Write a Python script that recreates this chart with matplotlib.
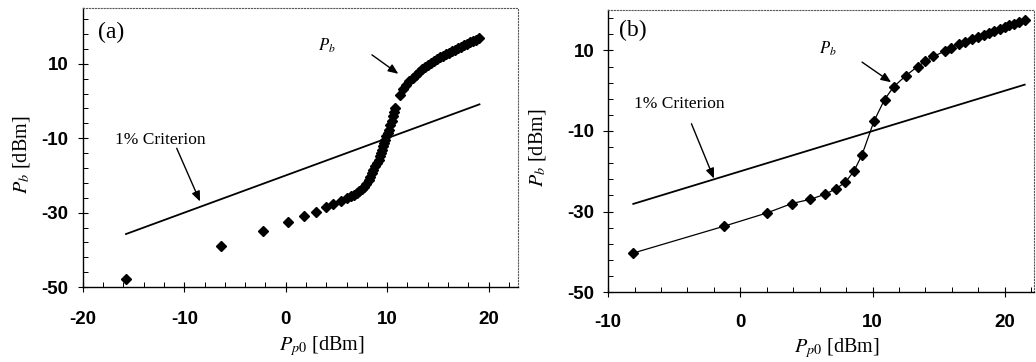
import numpy as np
import matplotlib
matplotlib.use("Agg")
import matplotlib.pyplot as plt
from matplotlib.ticker import FixedLocator

plt.rcParams['mathtext.fontset'] = 'stix'
plt.rcParams['font.family'] = 'Liberation Serif'
plt.rcParams['axes.unicode_minus'] = False

# (a) signal power vs. pump power, measured points only
pp0_a = [-15.7, -6.4, -2.2, 0.2, 1.8, 3.0, 4.0, 4.7, 5.4, 6.0, 6.4, 6.7, 7.0, 7.2,
         7.5, 7.7, 7.95, 8.2, 8.35, 8.5, 8.65, 8.8, 9.0, 9.15, 9.3, 9.4, 9.5, 9.6,
         9.7, 9.8, 9.9, 10.05, 10.15, 10.3, 10.45, 10.6, 10.7, 10.8, 11.3, 11.6,
         11.9, 12.2, 12.5, 12.8, 13.1, 13.4, 13.7, 14.0, 14.3, 14.6, 14.9, 15.2,
         15.5, 15.8, 16.1, 16.4, 16.7, 17.0, 17.3, 17.6, 17.9, 18.2, 18.5, 18.8, 19.1]
pb_a = [-47.9, -39.0, -34.9, -32.4, -30.9, -29.7, -28.5, -27.7, -27.0, -26.1, -25.6,
        -25.2, -24.8, -24.3, -23.7, -23.0, -22.2, -21.2, -20.3, -19.4, -18.5, -17.6,
        -16.7, -15.8, -14.9, -14.0, -13.1, -12.2, -11.3, -10.4, -9.5, -8.6, -7.7,
        -6.5, -5.3, -4.0, -3.0, -1.8, 1.7, 3.1, 4.3, 5.3, 6.3, 7.1, 7.9, 8.6, 9.2,
        9.7, 10.2, 10.8, 11.3, 11.8, 12.2, 12.6, 13.0, 13.4, 13.8, 14.2, 14.6,
        15.0, 15.4, 15.8, 16.1, 16.5, 16.9]

# (b) signal power vs. pump power, connected points
pp0_b = [-8.1, -1.2, 2.0, 3.9, 5.3, 6.4, 7.2, 7.95, 8.6, 9.2, 10.1, 10.9, 11.6,
         12.5, 13.4, 14.0, 14.6, 15.5, 15.9, 16.5, 17.0, 17.5, 18.0, 18.45, 18.8,
         19.2, 19.6, 20.0, 20.3, 20.7, 21.1, 21.5]
pb_b = [-40.3, -33.6, -30.35, -28.0, -26.95, -25.7, -24.4, -22.7, -19.9, -15.9,
        -7.6, -2.2, 1.0, 3.7, 6.0, 7.3, 8.5, 9.9, 10.6, 11.6, 12.1, 12.8, 13.4,
        13.9, 14.3, 14.9, 15.35, 15.75, 16.2, 16.6, 17.0, 17.5]

# 1% criterion: 20 dB below the pump
crit_x_a = [-15.75, 19.1]
crit_x_b = [-8.1, 21.5]
crit_offset = -20.0

fig = plt.figure(figsize=(10.36, 3.62), dpi=100)
ax_a = fig.add_axes([0.080, 0.207, 0.420, 0.771])
ax_b = fig.add_axes([0.587, 0.193, 0.411, 0.779])


def style_axis(ax, xlim, ylim, xpad, ypad):
    ax.set_xlim(*xlim)
    ax.set_ylim(*ylim)
    ax.xaxis.set_major_locator(FixedLocator([-20, -10, 0, 10, 20]))
    ax.xaxis.set_minor_locator(FixedLocator(np.arange(-20, 24, 2)))
    ax.yaxis.set_major_locator(FixedLocator([-50, -30, -10, 10]))
    ax.yaxis.set_minor_locator(FixedLocator(np.arange(-50, 26, 4)))
    ax.tick_params(which='major', direction='inout', length=7, width=0.8,
                   top=False, right=False)
    ax.tick_params(which='minor', direction='in', length=3.5, width=0.7,
                   top=False, right=False)
    ax.tick_params(axis='x', which='major', pad=xpad)
    ax.tick_params(axis='y', which='major', pad=ypad)
    for lab in ax.get_xticklabels() + ax.get_yticklabels():
        lab.set_fontfamily('Liberation Sans')
        lab.set_fontsize(13.5)
        lab.set_fontweight('bold')
    for side in ('top', 'right'):
        ax.spines[side].set_linestyle(':')
        ax.spines[side].set_color('0.35')
        ax.spines[side].set_linewidth(0.8)
    for side in ('left', 'bottom'):
        ax.spines[side].set_linewidth(1.0)


arrow = dict(arrowstyle='-|>,head_length=0.6,head_width=0.25', lw=1.0, color='black',
             shrinkA=0, shrinkB=0)

# ---- panel (a)
ax_a.plot(pp0_a, pb_a, linestyle='none', marker='D', markersize=5.5, color='black')
ax_a.plot(crit_x_a, [x + crit_offset for x in crit_x_a], color='black', lw=1.3)
style_axis(ax_a, (-20, 22.9), (-50, 25), xpad=14, ypad=7)
ax_a.text(-18.5, 18.4, '(a)', fontsize=17, va='center', ha='left')
ax_a.text(4.1, 14.8, '$\\boldsymbol{P_b}$', fontsize=12, ha='center', va='center')
ax_a.annotate('', xy=(11.1, 7.3), xytext=(8.5, 12.4), arrowprops=arrow)
ax_a.text(-12.4, -10.4, '1% Criterion', fontsize=12.5, ha='center', va='center')
ax_a.annotate('', xy=(-8.45, -27.0), xytext=(-10.75, -12.7), arrowprops=arrow)
ax_a.set_xlabel('$P_{p0}$ [dBm]', fontsize=14.5)
ax_a.set_ylabel('$P_b$ [dBm]', fontsize=14.5)
ax_a.xaxis.set_label_coords(0.55, -0.17)
ax_a.yaxis.set_label_coords(-0.117, 0.473)

# ---- panel (b)
ax_b.plot(pp0_b, pb_b, linestyle='-', lw=0.9, marker='D', markersize=5.0, color='black')
ax_b.plot(crit_x_b, [x + crit_offset for x in crit_x_b], color='black', lw=1.3)
style_axis(ax_b, (-10, 22.2), (-50, 20), xpad=12.5, ypad=6.5)
ax_b.text(-9.2, 15.0, '(b)', fontsize=17, va='center', ha='left')
ax_b.text(6.6, 10.4, '$\\boldsymbol{P_b}$', fontsize=12, ha='center', va='center')
ax_b.annotate('', xy=(11.4, 2.1), xytext=(9.2, 7.1), arrowprops=arrow)
ax_b.text(-4.6, -3.2, '1% Criterion', fontsize=12.5, ha='center', va='center')
ax_b.annotate('', xy=(-2.0, -21.8), xytext=(-3.7, -8.2), arrowprops=arrow)
ax_b.set_xlabel('$P_{p0}$ [dBm]', fontsize=14.5)
ax_b.set_ylabel('$P_b$ [dBm]', fontsize=14.5)
ax_b.xaxis.set_label_coords(0.537, -0.157)
ax_b.yaxis.set_label_coords(-0.141, 0.51)

fig.savefig('out.png', dpi=100)
